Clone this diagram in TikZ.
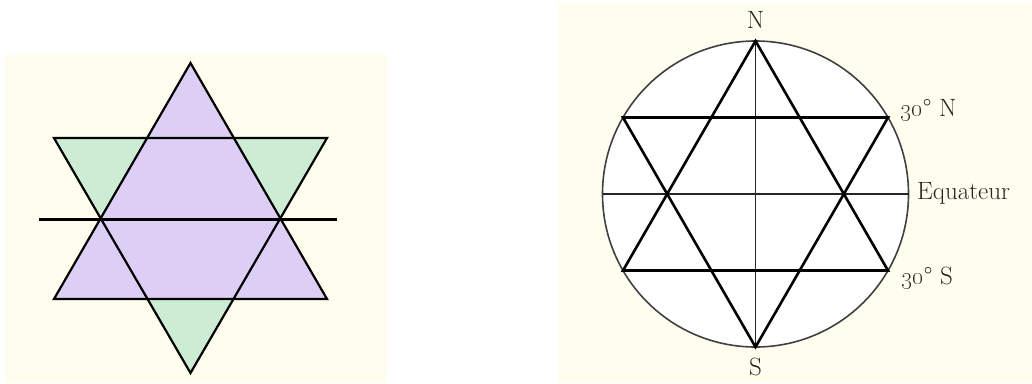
\documentclass[tikz,border=0pt]{standalone}
\usepackage{xcolor}
\usepackage{tikz}
\usetikzlibrary{calc}

\definecolor{creme}{RGB}{255,253,238}
\definecolor{lavande}{RGB}{221,206,246}
\definecolor{menthe}{RGB}{205,236,212}

\begin{document}
\begin{tikzpicture}[x=1pt, y=-1pt,
                    fort/.style={line width=2.6pt, black, line join=miter},
                    fin/.style={line width=1.2pt, black!85},
                    lbl/.style={font=\fontsize{25}{29}\selectfont, inner sep=0pt, text=black!85}]
  \useasboundingbox (0,0) rectangle (1032,383);
  % fonds
  \fill[creme] (5,55) rectangle (387,383);
  \fill[creme] (558,3) rectangle (1032,383);

  % etoile coloree (gauche)
  \coordinate (h) at (190.5,63);
  \coordinate (bg) at (54,299);
  \coordinate (bd) at (327,299);
  \coordinate (hg) at (54,138);
  \coordinate (hd) at (327,138);
  \coordinate (b) at (190.5,373);
  \fill[menthe] (hg) -- (hd) -- (b) -- cycle;
  \fill[lavande] (h) -- (bg) -- (bd) -- cycle;
  \draw[fort, line width=2.2pt] (h) -- (bg) -- (bd) -- cycle;
  \draw[fort, line width=2.2pt] (hg) -- (hd) -- (b) -- cycle;
  \draw[fort, line width=2.8pt] (hg) -- (hd);
  \draw[fort, line width=2.8pt] (bg) -- (bd);
  \coordinate (eg) at (39,219);
  \coordinate (ed) at (337,219);
  \draw[fort, line width=3pt] (eg) -- (ed);

  % cercle et hexagramme (droite)
  \coordinate (O) at (755.5,194);
  \fill[white] (O) circle (153);
  \draw[fin, line width=1.6pt, black!75] (O) circle (153);
  \coordinate (pN) at ($(O)+(0,-153)$);
  \coordinate (pS) at ($(O)+(0,153)$);
  \coordinate (pNO) at ($(O)+(-132.5,-76.5)$);
  \coordinate (pNE) at ($(O)+(132.5,-76.5)$);
  \coordinate (pSO) at ($(O)+(-132.5,76.5)$);
  \coordinate (pSE) at ($(O)+(132.5,76.5)$);
  \coordinate (pO) at ($(O)+(-153,0)$);
  \coordinate (pE) at ($(O)+(153,0)$);
  \draw[fin] (pN) -- (pS);
  \draw[fin] (pO) -- (pE);
  \draw[fort] (pN) -- (pSO) -- (pSE) -- cycle;
  \draw[fort] (pS) -- (pNO) -- (pNE) -- cycle;

  \node[lbl] (lN) at (755.5,20) {N};
  \node[lbl] (lS) at (755.5,367) {S};
  \node[lbl, anchor=west] (l30N) at (900,110) {\oldstylenums{30}\textdegree\ N};
  \node[lbl, anchor=west] (lEq) at (917,193) {Equateur};
  \node[lbl, anchor=west] (l30S) at (901,278) {\oldstylenums{30}\textdegree\ S};
\end{tikzpicture}
\end{document}
